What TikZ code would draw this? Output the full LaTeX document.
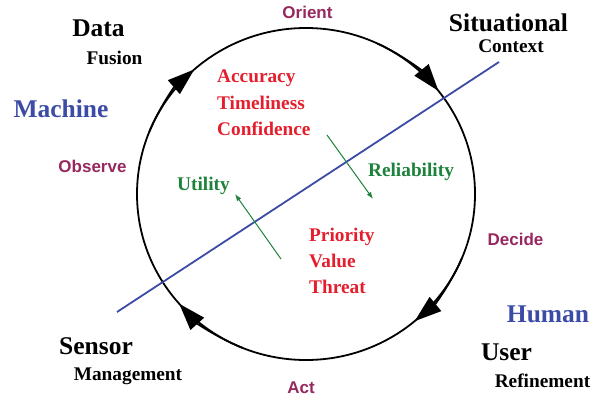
\documentclass[tikz,border=0pt]{standalone}
\usepackage{fontspec}
\setmainfont{Liberation Serif}
\newfontfamily\phasefont{Liberation Sans}
\usetikzlibrary{arrows.meta}

\definecolor{phasepurple}{RGB}{150,40,95}
\definecolor{qualred}{RGB}{228,30,45}
\definecolor{qualgreen}{RGB}{30,130,60}
\definecolor{splitblue}{RGB}{60,75,165}

\tikzset{
  bigword/.style={font=\bfseries\fontsize{25.5}{30}\selectfont, anchor=base, inner sep=0pt},
  smallword/.style={font=\bfseries\fontsize{19.3}{23}\selectfont, anchor=base, inner sep=0pt},
  phaseword/.style={font=\phasefont\bfseries\fontsize{17}{20}\selectfont, text=phasepurple, anchor=base, inner sep=0pt},
  listword/.style={smallword, text=qualred, anchor=base west},
  loopline/.style={line width=1.8pt, black},
  looptip/.style={loopline, -{Triangle[length=27pt,width=18pt]}},
  flow/.style={qualgreen, line width=1pt, -{Latex[length=7pt,width=5pt]}}
}

\begin{document}
\begin{tikzpicture}[x=1pt,y=1pt]
\useasboundingbox (0,0) rectangle (601,397);

% Loop
\coordinate (loop) at (306,203);
\draw[loopline] (loop) ellipse[x radius=169, y radius=166];
\draw[looptip] ([shift={(158:169 and 166)}]loop) arc[start angle=158, end angle=131.4, x radius=169, y radius=166];
\draw[looptip] ([shift={(65:169 and 166)}]loop) arc[start angle=65, end angle=38.4, x radius=169, y radius=166];
\draw[looptip] ([shift={(-23:169 and 166)}]loop) arc[start angle=-23, end angle=-50, x radius=169, y radius=166];
\draw[looptip] ([shift={(248:169 and 166)}]loop) arc[start angle=248, end angle=221.4, x radius=169, y radius=166];

% Machine / human split
\coordinate (split-low) at (117,85);
\coordinate (split-high) at (499,335);
\draw[splitblue, line width=1.8pt] (split-low) -- (split-high);

% Green arrows
\coordinate (rel-start) at (327,262);
\coordinate (rel-end) at (373,198);
\coordinate (util-start) at (281,138);
\coordinate (util-end) at (235,203);
\draw[flow] (rel-start) -- (rel-end);
\draw[flow] (util-start) -- (util-end);

% Phases
\node[phaseword] (orient) at (307.5,378) {Orient};
\node[phaseword] (observe) at (92.5,225) {Observe};
\node[phaseword] (decide) at (515.5,152) {Decide};
\node[phaseword] (act) at (301,3.5) {Act};

% Corner labels
\node[bigword] (data) at (98.5,360) {Data};
\node[smallword] (fusion) at (114.5,332) {Fusion};
\node[bigword] (situational) at (508.5,365) {Situational};
\node[smallword] (context) at (511,344) {Context};
\node[bigword] (sensor) at (96,43) {Sensor};
\node[smallword] (management) at (128,17) {Management};
\node[bigword] (user) at (506.5,37) {User};
\node[smallword] (refinement) at (542.5,10) {Refinement};

% Sides
\node[bigword, text=splitblue] (machine) at (61,280) {Machine};
\node[bigword, text=splitblue] (human) at (548,75) {Human};

% Qualities
\node[listword] (accuracy) at (217,314) {Accuracy};
\node[listword] (timeliness) at (217,288) {Timeliness};
\node[listword] (confidence) at (217,262) {Confidence};
\node[listword] (priority) at (309,156) {Priority};
\node[listword] (value) at (309,130) {Value};
\node[listword] (threat) at (309,104) {Threat};
\node[smallword, text=qualgreen] (reliability) at (411,221) {Reliability};
\node[smallword, text=qualgreen] (utility) at (203.5,207) {Utility};
\end{tikzpicture}
\end{document}
